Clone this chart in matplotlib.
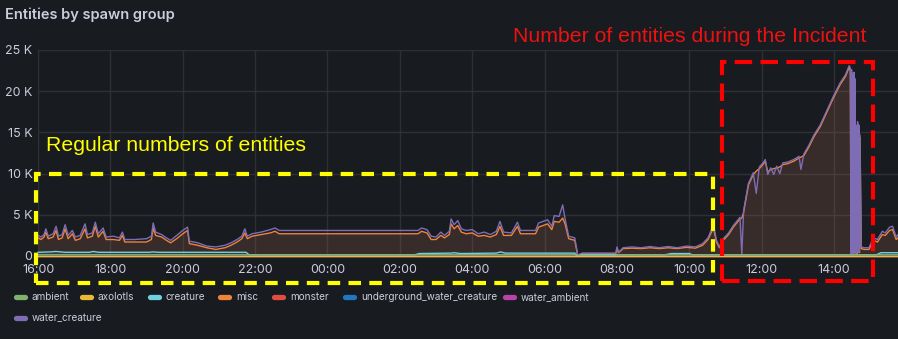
import pandas as pd
import matplotlib.pyplot as plt
import matplotlib.dates as mdates
import matplotlib.patches as patches
from matplotlib.lines import Line2D
import numpy as np

# values in thousands of entities
wc_times = ["16:00", "16:05", "16:10", "16:13", "16:17", "16:25", "16:30", "16:34", "16:40", "16:45",
            "16:50", "16:57", "17:02", "17:10", "17:18", "17:22", "17:30", "17:35", "17:40", "17:48",
            "17:53", "18:05", "18:15", "18:20", "18:24", "18:40", "19:00", "19:08", "19:11", "19:15",
            "19:25", "19:33", "19:40", "19:50", "20:00", "20:08", "20:11", "20:25", "20:40", "20:55",
            "21:10", "21:20", "21:30", "21:38", "21:43", "21:47", "21:55", "22:10", "22:25", "22:33",
            "22:40", "02:30", "02:36", "02:45", "02:52", "03:00", "03:08", "03:14", "03:22", "03:25",
            "03:30", "03:36", "03:42", "03:50", "04:00", "04:10", "04:20", "04:30", "04:40", "04:46",
            "04:52", "05:05", "05:15", "05:20", "05:45", "05:50", "06:05", "06:12", "06:16", "06:24",
            "06:30", "06:34", "06:40", "06:50", "06:55", "07:02", "07:58", "08:00", "08:03", "08:10",
            "08:25", "08:40", "08:55", "09:10", "09:25", "09:40", "09:55", "10:10", "10:22", "10:31",
            "10:40", "10:45", "10:50", "10:55", "11:05", "11:13", "11:24", "11:27", "11:30", "11:38",
            "11:46", "11:51", "11:56", "12:01", "12:06", "12:10", "12:15", "12:20", "12:25", "12:30",
            "12:35", "12:43", "12:53", "13:02", "13:05", "13:10", "13:18", "13:26", "13:37", "13:49",
            "13:59", "14:10", "14:19", "14:25", "14:27", "14:28", "14:29", "14:30", "14:31", "14:32",
            "14:33", "14:34", "14:35", "14:36", "14:37", "14:38", "14:39", "14:40", "14:41", "14:42",
            "14:43", "14:45", "14:50", "14:58", "15:05", "15:12", "15:20", "15:25", "15:32", "15:37",
            "15:43", "15:46"]
water_creature = [2.5, 2.3, 2.6, 3.3, 2.4, 2.7, 3.6, 2.4, 2.6, 3.8,
                  2.5, 3.1, 2.3, 2.5, 3.9, 2.6, 2.8, 4.1, 2.7, 3.4,
                  2.3, 2.4, 2.2, 2.9, 2.0, 2.0, 2.1, 2.4, 4.0, 2.9,
                  2.6, 2.2, 1.9, 2.5, 3.1, 3.5, 1.8, 1.6, 1.2, 1.1,
                  1.3, 1.6, 2.0, 2.4, 3.3, 2.4, 2.7, 2.9, 3.2, 3.4,
                  3.1, 3.1, 3.4, 3.2, 2.4, 2.3, 2.9, 2.5, 3.0, 4.5,
                  3.8, 4.3, 3.3, 3.1, 3.2, 2.7, 2.9, 2.6, 3.0, 4.2,
                  2.9, 2.8, 4.1, 3.1, 3.1, 4.0, 4.4, 3.6, 4.9, 4.8,
                  6.2, 4.5, 2.4, 2.2, 0.1, 0.35, 0.35, 1.1, 0.45, 1.0,
                  1.1, 1.0, 1.15, 1.0, 1.15, 1.0, 1.2, 1.1, 1.5, 2.2,
                  3.8, 1.9, 1.1, 2.0, 2.8, 3.7, 4.7, 0.2, 5.5, 8.8,
                  10.1, 7.6, 10.8, 11.2, 11.7, 9.9, 10.7, 9.9, 10.9, 10.0,
                  11.3, 11.4, 11.7, 12.1, 10.5, 12.4, 13.4, 14.6, 15.9, 17.8,
                  19.4, 21.0, 22.0, 23.1, 22.8, 0.3, 22.6, 0.4, 22.0, 0.3,
                  22.3, 0.5, 21.5, 0.3, 15.8, 0.4, 16.3, 0.6, 15.9, 0.5,
                  14.7, 1.1, 1.0, 1.0, 2.2, 2.0, 3.0, 2.8, 3.5, 3.6,
                  2.3, 2.6]
misc = [2.2, 2.0, 2.3, 2.9, 2.1, 2.3, 3.1, 2.0, 2.2, 3.3,
        2.1, 2.7, 1.9, 2.1, 3.3, 2.2, 2.4, 3.6, 2.3, 3.0,
        2.0, 2.0, 1.9, 2.5, 1.7, 1.7, 1.7, 2.0, 3.4, 2.5,
        2.3, 1.9, 1.6, 2.1, 2.7, 3.1, 1.5, 1.3, 1.0, 0.8,
        1.0, 1.3, 1.7, 2.1, 2.8, 2.1, 2.4, 2.6, 2.8, 3.0,
        2.7, 2.7, 3.0, 2.8, 2.0, 2.0, 2.5, 2.2, 2.6, 3.9,
        3.3, 3.7, 2.9, 2.7, 2.8, 2.4, 2.5, 2.3, 2.6, 3.6,
        2.5, 2.5, 3.6, 2.7, 2.7, 3.5, 3.9, 3.2, 4.2, 4.1,
        4.6, 3.9, 2.1, 1.9, 0.05, 0.3, 0.3, 0.8, 0.4, 0.9,
        0.95, 0.9, 1.0, 0.9, 1.0, 0.9, 1.05, 0.95, 1.3, 2.0,
        3.4, 1.7, 1.0, 1.8, 2.6, 3.5, 4.5, 4.6, 5.3, 8.6,
        9.9, 10.3, 10.6, 11.0, 11.5, 10.2, 10.5, 10.6, 10.7, 10.8,
        11.1, 11.2, 11.5, 11.9, 12.0, 12.2, 13.2, 14.4, 15.7, 17.6,
        19.2, 20.8, 21.8, 22.9, 22.5, 0.2, 22.3, 0.3, 21.7, 0.2,
        22.0, 0.4, 21.2, 0.2, 15.5, 0.3, 16.0, 0.5, 15.6, 0.4,
        14.4, 0.9, 0.8, 0.8, 1.9, 1.7, 2.6, 2.5, 3.1, 3.2,
        2.0, 2.2]

creature_times = ["16:00", "16:20", "16:30", "16:45", "17:25", "17:32", "17:40", "19:05", "19:10", "19:20",
                  "21:45", "21:50", "02:25", "02:32", "03:25", "03:30", "03:40", "04:40", "04:47", "04:55",
                  "06:50", "06:55", "07:02", "09:20", "09:30", "10:00", "10:05", "15:10", "15:18", "15:46"]
creature = [0.45, 0.5, 0.55, 0.45, 0.45, 0.55, 0.45, 0.45, 0.5, 0.45,
            0.45, 0.15, 0.15, 0.3, 0.35, 0.4, 0.3, 0.35, 0.5, 0.35,
            0.35, 0.0, 0.15, 0.15, 0.3, 0.3, 0.15, 0.15, 0.4, 0.4]

ambient_times = ["16:00", "06:50", "06:55", "07:58", "08:00", "15:46"]
ambient = [0.15, 0.15, 0.05, 0.05, 0.15, 0.15]

flat_times = ["16:00", "15:46"]
axolotls = [0.02, 0.02]
monster = [0.0, 0.0]
underground_water_creature = [0.0, 0.0]
water_ambient = [0.0, 0.0]

series_names = ["ambient", "axolotls", "creature", "misc", "monster",
                "underground_water_creature", "water_ambient", "water_creature"]
colors = ["#7EB26D", "#EAB839", "#6ED0E0", "#EF843C", "#E24D42", "#1F78C1", "#BA43A9", "#7E6DB5"]

BG = "#181b1f"
TXT = "#ccccdc"
W, H = 898, 339


def to_times(labels):
    start = pd.Timestamp("2023-01-01 16:00")
    out = []
    for s in labels:
        t = pd.Timestamp("2023-01-01 " + s)
        if t < start:
            t += pd.Timedelta(days=1)
        out.append(t)
    return out


def fx(x):
    return x / W


def fy(y):
    return 1 - y / H


data = {
    "ambient": (ambient_times, ambient),
    "axolotls": (flat_times, axolotls),
    "creature": (creature_times, creature),
    "misc": (wc_times, misc),
    "monster": (flat_times, monster),
    "underground_water_creature": (flat_times, underground_water_creature),
    "water_ambient": (flat_times, water_ambient),
    "water_creature": (wc_times, water_creature),
}
fill_alpha = {"misc": 0.13, "water_creature": 0.06}

fig = plt.figure(figsize=(W / 100, H / 100), dpi=100, facecolor=BG)
ax = fig.add_axes([fx(38), fy(256), fx(898) - fx(38), fy(50) - fy(256)])
ax.set_facecolor(BG)

draw_order = ["monster", "underground_water_creature", "water_ambient", "misc",
              "water_creature", "creature", "ambient", "axolotls"]
for name in draw_order:
    t, v = data[name]
    t = to_times(t)
    v = np.array(v) * 1000
    c = colors[series_names.index(name)]
    ax.fill_between(t, 0, v, color=c, alpha=fill_alpha.get(name, 0.1), lw=0)
    ax.plot(t, v, color=c, lw=1.0, clip_on=False, zorder=3)

ax.set_xlim(pd.Timestamp("2023-01-01 16:00"), pd.Timestamp("2023-01-02 15:46"))
ax.set_ylim(0, 25000)
ax.set_yticks([0, 5000, 10000, 15000, 20000, 25000])
ax.set_yticklabels(["0", "5 K", "10 K", "15 K", "20 K", "25 K"])
ax.xaxis.set_major_locator(mdates.HourLocator(byhour=range(0, 24, 2)))
ax.xaxis.set_major_formatter(mdates.DateFormatter("%H:%M"))
ax.tick_params(length=0, colors=TXT, labelsize=9)
ax.tick_params(axis="x", pad=6)
ax.tick_params(axis="y", pad=4)
for lab in ax.get_xticklabels() + ax.get_yticklabels():
    lab.set_fontfamily("Inter")
ax.grid(color="#2e3035", lw=1)
ax.set_axisbelow(True)
for s in ax.spines.values():
    s.set_visible(False)

fig.text(fx(5), fy(15), "Entities by spawn group", color=TXT, fontsize=10.5,
         fontfamily="Inter", fontweight="semibold", va="center", ha="left")

# legend, laid out like the Grafana panel
legend_rows = [(297, [14, 80, 148, 218, 272, 343, 503]), (318, [14])]
k = 0
for ly, xs in legend_rows:
    for lx in xs:
        fig.add_artist(Line2D([fx(lx + 2), fx(lx + 11)], [fy(ly), fy(ly)], color=colors[k],
                              lw=3.8, solid_capstyle="round", transform=fig.transFigure))
        fig.text(fx(lx + 18), fy(ly), series_names[k], color=TXT, fontsize=7.2,
                 fontfamily="Inter", va="center", ha="left")
        k += 1

# annotation boxes drawn over the screenshot
yellow = "#ffff00"
red = "#ff0000"
fig.add_artist(patches.Rectangle((fx(36), fy(283)), fx(713) - fx(36), fy(174) - fy(283),
                                 fill=False, edgecolor=yellow, lw=3, linestyle=(0, (3.0, 2.0)),
                                 transform=fig.transFigure, zorder=5))
fig.add_artist(patches.Rectangle((fx(722), fy(281)), fx(873) - fx(722), fy(62) - fy(281),
                                 fill=False, edgecolor=red, lw=3, linestyle=(0, (4.2, 2.0)),
                                 transform=fig.transFigure, zorder=5))
fig.text(fx(46), fy(151), "Regular numbers of entities", color=yellow, fontsize=15.3,
         fontfamily="Liberation Sans", va="baseline", ha="left")
fig.text(fx(513), fy(42), "Number of entities during the Incident", color="#ee1111", fontsize=15.3,
         fontfamily="Liberation Sans", va="baseline", ha="left")

fig.savefig("out.png", dpi=100, facecolor=BG)
